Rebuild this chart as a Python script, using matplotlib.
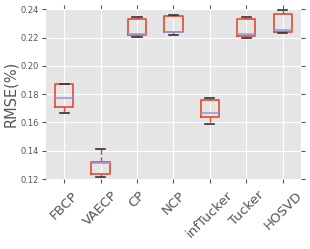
import numpy as np
import matplotlib
matplotlib.use('Agg')
import matplotlib.pyplot as plt

plt.style.use('ggplot')

# 各手法のRMSE（箱ひげ図の統計量）
methods = ['FBCP', 'VAECP', 'CP', 'NCP', 'infTucker', 'Tucker', 'HOSVD']
whislo = [0.1670, 0.1212, 0.2207, 0.2219, 0.1591, 0.2198, 0.2231]
q1 = [0.1708, 0.1236, 0.2217, 0.2236, 0.1638, 0.2212, 0.2236]
med = [0.1774, 0.1310, 0.2228, 0.2242, 0.1670, 0.2224, 0.2253]
q3 = [0.1873, 0.1320, 0.2334, 0.2351, 0.1755, 0.2330, 0.2369]
whishi = [0.1873, 0.1414, 0.2348, 0.2362, 0.1773, 0.2344, 0.2393]
yticks = [0.12, 0.14, 0.16, 0.18, 0.20, 0.22, 0.24]

stats = []
for i, m in enumerate(methods):
    stats.append({'label': m, 'whislo': whislo[i], 'q1': q1[i], 'med': med[i],
                  'q3': q3[i], 'whishi': whishi[i], 'fliers': []})

fig = plt.figure(figsize=(3.1, 2.49), dpi=100)
ax = fig.add_axes([0.148, 0.281, 0.823, 0.682])

ax.bxp(stats, widths=0.5, showfliers=False,
       boxprops=dict(color='#E24A33', linewidth=1.2),
       medianprops=dict(color='#9a9ae0', linewidth=1.2),
       whiskerprops=dict(color='#E24A33', linestyle='--', linewidth=1),
       capprops=dict(color='#333333', linewidth=1.2))

ax.set_ylim(0.12, 0.24)
ax.set_yticks(yticks)
ax.set_yticklabels(['%.2f' % v for v in yticks], fontsize=6)
ax.set_xticks(range(1, len(methods) + 1))
ax.set_xticklabels(methods, rotation=45, fontsize=9.5, ha='center')
ax.set_ylabel('RMSE(%)', fontsize=10.5, color='#555555', labelpad=2)
ax.tick_params(axis='both', which='both', direction='out', top=True, right=True,
               colors='#555555', length=3, pad=2)
ax.tick_params(axis='x', pad=4)
for s in ax.spines.values():
    s.set_visible(False)

plt.savefig('out.png', dpi=100)
